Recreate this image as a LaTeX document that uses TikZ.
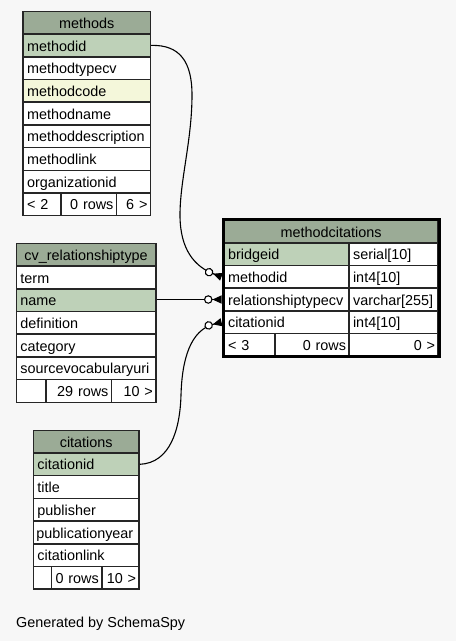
\documentclass[tikz,border=0pt]{standalone}
\usepackage{fontspec}
\setmainfont{Liberation Sans}
\usetikzlibrary{arrows.meta}
\definecolor{bgc}{HTML}{F7F7F7}
\definecolor{hdr}{HTML}{9BAB96}
\definecolor{pkc}{HTML}{BED1B8}
\definecolor{idxc}{HTML}{F4F7DA}
\newcommand\tcell[7]{% name, x, y, w, fill, align, text
  \pgfmathsetmacro\tcw{#4-6}%
  \node[cell, fill=#5, text width=\tcw pt, align=#6] (#1) at (#2,#3) {#7};}
\begin{document}
\begin{tikzpicture}[x=1pt,y=-1pt,
  cell/.style={draw=black!85, line width=1.5pt, anchor=north west, minimum height=22.7pt,
    inner xsep=3pt, inner ysep=0pt, text height=12.5pt, text depth=1.2pt,
    font=\fontsize{14.4}{17}\selectfont},
  conn/.style={line width=1.1pt, -{Circle[open,fill=white,length=8.5pt,width=8.5pt,sep=0pt]Triangle[reversed,length=9pt,width=8pt,sep=0pt]}},
  gen/.style={anchor=base west, inner sep=0pt, font=\fontsize{14.4}{17}\selectfont}]
\fill[bgc] (0,0) rectangle (456,641);
\useasboundingbox (0,0) rectangle (456,641);

% methods
\tcell{mh}{22.3}{10.6}{127.4}{hdr}{center}{methods}
\tcell{mid}{22.3}{33.3}{127.4}{pkc}{left}{\hspace{1pt}methodid}
\tcell{mtc}{22.3}{56.0}{127.4}{white}{left}{\hspace{1pt}methodtypecv}
\tcell{mco}{22.3}{78.7}{127.4}{idxc}{left}{\hspace{1pt}methodcode}
\tcell{mna}{22.3}{101.4}{127.4}{white}{left}{\hspace{1pt}methodname}
\tcell{mde}{22.3}{124.1}{127.4}{white}{left}{\hspace{1pt}methoddescription}
\tcell{mli}{22.3}{146.8}{127.4}{white}{left}{\hspace{1pt}methodlink}
\tcell{mor}{22.3}{169.5}{127.4}{white}{left}{\hspace{1pt}organizationid}
\tcell{mf1}{22.3}{192.2}{37.7}{white}{left}{\hspace{1pt}< 2}
\tcell{mf2}{60.0}{192.2}{55.7}{white}{right}{0 rows}
\tcell{mf3}{115.7}{192.2}{34.0}{white}{right}{6 >}

% cv_relationshiptype
\tcell{ch}{15.7}{242.6}{139.3}{hdr}{center}{cv\_relationshiptype}
\tcell{cte}{15.7}{265.3}{139.3}{white}{left}{\hspace{1pt}term}
\tcell{cna}{15.7}{288.0}{139.3}{pkc}{left}{\hspace{1pt}name}
\tcell{cdf}{15.7}{310.7}{139.3}{white}{left}{\hspace{1pt}definition}
\tcell{cca}{15.7}{333.4}{139.3}{white}{left}{\hspace{1pt}category}
\tcell{csv}{15.7}{356.1}{139.3}{white}{left}{\hspace{1pt}sourcevocabularyuri}
\tcell{cf1}{15.7}{378.8}{29.3}{white}{left}{}
\tcell{cf2}{45.0}{378.8}{65.7}{white}{right}{29 rows}
\tcell{cf3}{110.7}{378.8}{44.3}{white}{right}{10 >}

% citations
\tcell{th}{32.7}{429.5}{105.6}{hdr}{center}{citations}
\tcell{tid}{32.7}{452.2}{105.6}{pkc}{left}{\hspace{1pt}citationid}
\tcell{tti}{32.7}{474.9}{105.6}{white}{left}{\hspace{1pt}title}
\tcell{tpu}{32.7}{497.6}{105.6}{white}{left}{\hspace{1pt}publisher}
\tcell{tpy}{32.7}{520.3}{105.6}{white}{left}{publicationyear}
\tcell{tcl}{32.7}{543.0}{105.6}{white}{left}{\hspace{1pt}citationlink}
\tcell{tf1}{32.7}{565.7}{18.0}{white}{left}{}
\tcell{tf2}{50.7}{565.7}{50.3}{white}{right}{0 rows}
\tcell{tf3}{101.0}{565.7}{37.3}{white}{right}{10 >}

% methodcitations
\tcell{xh}{223.3}{219.3}{214.0}{hdr}{center}{methodcitations}
\tcell{xb}{223.3}{242.0}{125.0}{pkc}{left}{\hspace{1pt}bridgeid}
\tcell{xbt}{348.3}{242.0}{89.0}{white}{left}{\hspace{1pt}serial[10]}
\tcell{xm}{223.3}{264.7}{125.0}{white}{left}{\hspace{1pt}methodid}
\tcell{xmt}{348.3}{264.7}{89.0}{white}{left}{\hspace{1pt}int4[10]}
\tcell{xr}{223.3}{287.4}{125.0}{white}{left}{\hspace{1pt}relationshiptypecv}
\tcell{xrt}{348.3}{287.4}{89.0}{white}{left}{\hspace{1pt}varchar[255]}
\tcell{xc}{223.3}{310.1}{125.0}{white}{left}{\hspace{1pt}citationid}
\tcell{xct}{348.3}{310.1}{89.0}{white}{left}{\hspace{1pt}int4[10]}
\tcell{xf1}{223.3}{332.8}{50.7}{white}{left}{\hspace{1pt}< 3}
\tcell{xf2}{274.0}{332.8}{74.3}{white}{right}{0 rows}
\tcell{xf3}{348.3}{332.8}{89.0}{white}{right}{0 >}
\node[draw=black, line width=3pt, anchor=north west, inner sep=0pt,
  minimum width=216.3pt, minimum height=137pt] (xbox) at (221.5,218.2) {};

% connectors
\draw[conn] (mid.east) .. controls (180,44.6) and (192,62) .. (192,95)
  .. controls (192,140) and (180,180) .. (180,215)
  .. controls (180,250) and (195,267) .. (xbox.west |- xm);
\draw[conn] (cna.east |- xr) -- (xbox.west |- xr);
\draw[conn] (tid.east) .. controls (170,463) and (180,430) .. (181,395)
  .. controls (182,360) and (190,330) .. (xbox.west |- xc);

\node[gen] (genby) at (16,627) {Generated by SchemaSpy};
\end{tikzpicture}
\end{document}
